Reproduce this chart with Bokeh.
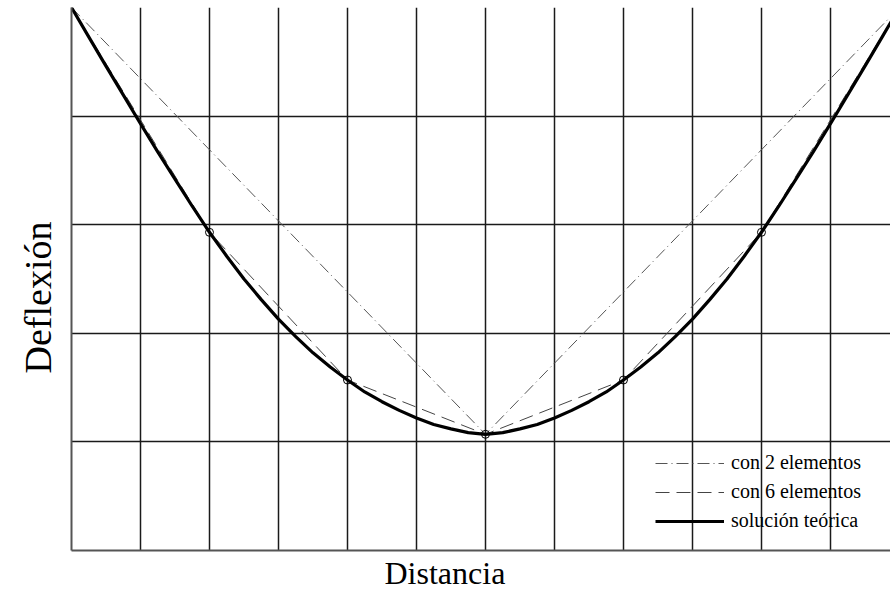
from bokeh.plotting import figure
from bokeh.models import FixedTicker, Legend, LegendItem, Title
from bokeh.embed import file_html
from bokeh.resources import INLINE

# Distance in grid units (0..12), deflection in grid units (0 at top, negative downward)
theory_x = [0, 0.25, 0.5, 0.75, 1, 1.25, 1.5, 1.75, 2, 2.25, 2.5, 2.75, 3, 3.25, 3.5, 3.75,
            4, 4.25, 4.5, 4.75, 5, 5.25, 5.5, 5.75, 6,
            6.25, 6.5, 6.75, 7, 7.25, 7.5, 7.75, 8, 8.25, 8.5, 8.75, 9, 9.25, 9.5, 9.75,
            10, 10.25, 10.5, 10.75, 11, 11.25, 11.5, 11.75, 12]
theory_y = [0, -0.27, -0.54, -0.805, -1.07, -1.33, -1.58, -1.83, -2.07, -2.29, -2.50, -2.69,
            -2.87, -3.03, -3.18, -3.31, -3.43, -3.54, -3.63, -3.71, -3.78, -3.84, -3.88, -3.915,
            -3.93,
            -3.915, -3.88, -3.84, -3.78, -3.71, -3.63, -3.54, -3.43, -3.31, -3.18, -3.03, -2.87,
            -2.69, -2.50, -2.29, -2.07, -1.83, -1.58, -1.33, -1.07, -0.805, -0.54, -0.27, 0]

six_x = [0, 2, 4, 6, 8, 10, 12]
six_y = [0, -2.07, -3.43, -3.93, -3.43, -2.07, 0]

two_x = [0, 6, 12]
two_y = [0, -3.93, 0]

node_x = [2, 4, 6, 8, 10]
node_y = [-2.07, -3.43, -3.93, -3.43, -2.07]

grid_x = list(range(0, 13))
grid_y = [-5, -4, -3, -2, -1, 0]

SERIF = "Liberation Serif"

p = figure(width=890, height=608, output_backend="svg", toolbar_location=None,
           x_range=(0, 11.87), y_range=(-5, 0.0),
           min_border_left=71, min_border_right=0, min_border_top=7, min_border_bottom=58)
p.outline_line_color = None
p.background_fill_color = "white"
p.border_fill_color = "white"

for ax in (p.xaxis[0], p.yaxis[0]):
    ax.ticker = FixedTicker(ticks=[])
    ax.major_tick_line_color = None
    ax.minor_tick_line_color = None
    ax.axis_line_color = "#555555"
    ax.axis_line_width = 2

p.xgrid.ticker = FixedTicker(ticks=grid_x)
p.ygrid.ticker = FixedTicker(ticks=grid_y)
for g in (p.xgrid[0], p.ygrid[0]):
    g.grid_line_color = "#1a1a1a"
    g.grid_line_width = 1.5
    g.grid_line_alpha = 1.0

xt = Title(text="Distancia", align="left", offset=313, text_font=SERIF,
           text_font_style="normal", text_font_size="32px", text_color="black", standoff=4)
yt = Title(text="Deflexión", align="left", offset=177, text_font=SERIF,
           text_font_style="normal", text_font_size="38px", text_color="black", standoff=26)
p.add_layout(xt, "below")
p.add_layout(yt, "left")

r2 = p.line(two_x, two_y, line_color="#555555", line_width=1, line_dash="12 4 1 4")
r6 = p.line(six_x, six_y, line_color="#444444", line_width=1, line_dash="14 7")
rt = p.line(theory_x, theory_y, line_color="black", line_width=3.2)
p.scatter(node_x, node_y, marker="circle", size=8, fill_color=None,
          line_color="black", line_width=1)

legend = Legend(items=[
    LegendItem(label="con 2 elementos", renderers=[r2]),
    LegendItem(label="con 6 elementos", renderers=[r6]),
    LegendItem(label="solución teórica", renderers=[rt]),
], location=(584, 18))
legend.border_line_color = None
legend.background_fill_alpha = 0
legend.padding = 0
legend.margin = 0
legend.glyph_width = 69
legend.glyph_height = 20
legend.label_height = 20
legend.spacing = 6
legend.label_standoff = 7
legend.label_text_font = SERIF
legend.label_text_font_size = "20px"
legend.label_text_color = "black"
p.add_layout(legend)

open("out.html", "w").write(file_html(p, INLINE))
